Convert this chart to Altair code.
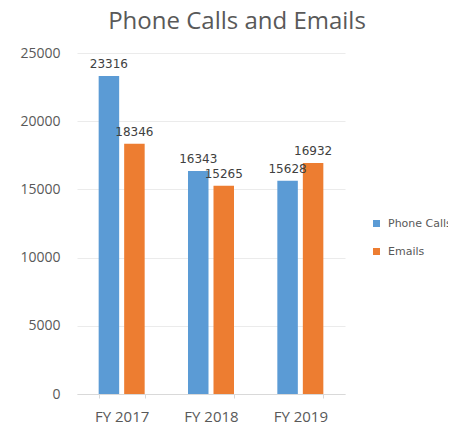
import altair as alt
import pandas as pd

years = ["FY 2017", "FY 2018", "FY 2019"]
series = ["Phone Calls", "Emails"]
phone_calls = [23316, 16343, 15628]
emails = [18346, 15265, 16932]
y_ticks = [0, 5000, 10000, 15000, 20000, 25000]
colors = ["#5B9BD5", "#ED7D31"]

rows = []
for i, yr in enumerate(years):
    rows.append({"year": yr, "series": series[0], "value": phone_calls[i]})
    rows.append({"year": yr, "series": series[1], "value": emails[i]})
df = pd.DataFrame(rows)

x = alt.X("year:N", sort=years, title=None,
          scale=alt.Scale(paddingInner=0.485, paddingOuter=0.2425),
          axis=alt.Axis(labelAngle=0, labelFont="Open Sans", labelFontSize=15,
                        labelColor="#595959", labelPadding=11,
                        domainColor="#D9D9D9", tickColor="#D9D9D9", tickSize=4,
                        tickBand="extent", grid=False))
xoff = alt.XOffset("series:N", sort=series,
                   scale=alt.Scale(paddingInner=0.196, paddingOuter=0))
y = alt.Y("value:Q", title=None,
          scale=alt.Scale(domain=[0, 25000], nice=False),
          axis=alt.Axis(values=y_ticks, ticks=False, domain=False,
                        labelFont="Open Sans", labelFontSize=14,
                        labelColor="#595959", labelPadding=17,
                        gridColor="#EBEBEB", format="d"))
color = alt.Color("series:N", sort=series,
                  scale=alt.Scale(domain=series, range=colors),
                  legend=alt.Legend(title=None, orient="none", legendX=294, legendY=165,
                                    symbolType="square", symbolSize=49,
                                    symbolStrokeWidth=0,
                                    labelFont="DejaVu Sans", labelFontSize=11,
                                    labelColor="#595959", labelOffset=6,
                                    rowPadding=16))

bars = alt.Chart(df).mark_bar().encode(x=x, xOffset=xoff, y=y, color=color)
labels = alt.Chart(df).mark_text(font="DejaVu Sans", fontSize=12, color="#404040",
                                 baseline="alphabetic", dy=-8).encode(
    x=alt.X("year:N", sort=years), xOffset=xoff, y="value:Q",
    text=alt.Text("value:Q", format="d"))

chart = (bars + labels).properties(
    width=268, height=341,
    title=alt.TitleParams("Phone Calls and Emails", font="Open Sans", fontSize=24,
                          fontWeight="normal", color="#595959", anchor="middle",
                          dx=26, offset=12),
    autosize=alt.AutoSizeParams(type="none"),
    padding={"left": 69, "top": 45, "right": 103, "bottom": 32},
).configure_view(stroke=None)

chart.save("out.html", embed_options={"renderer": "svg", "actions": False})
